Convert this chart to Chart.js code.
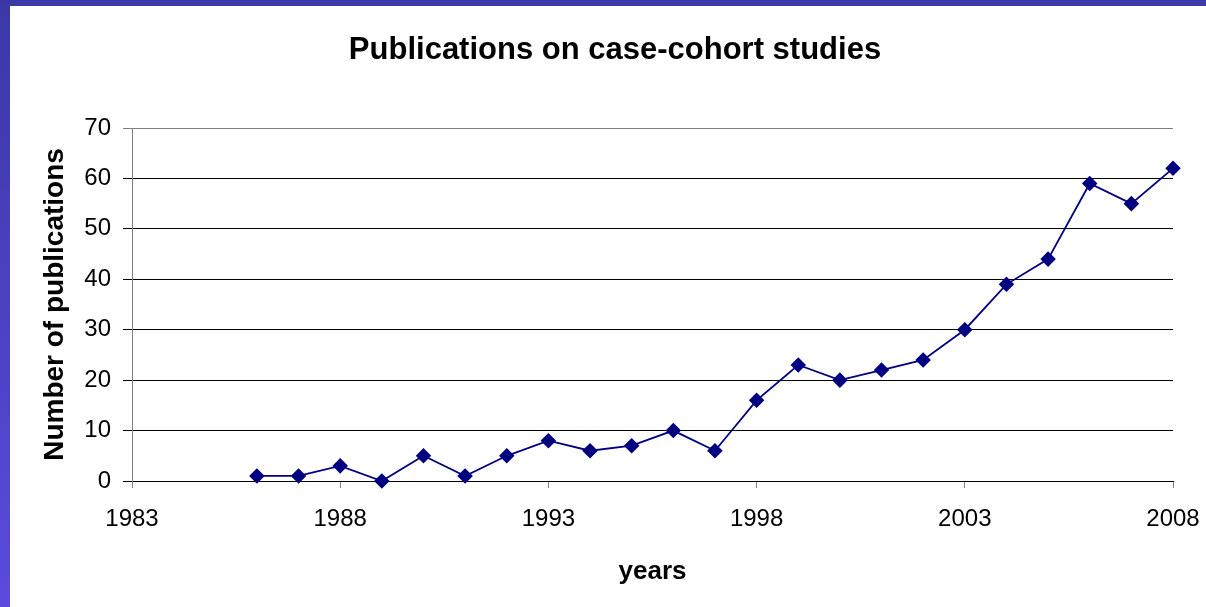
<!DOCTYPE html>
<html>
<head>
<meta charset="utf-8">
<script src="https://cdn.jsdelivr.net/npm/chart.js@4"></script>
<style>
  body { margin: 0; background: #fff; overflow: hidden; }
  .bar-top { position: absolute; left: 0; top: 0; width: 1206px; height: 6px; background: #3c3aa8; }
  .bar-left { position: absolute; left: 0; top: 0; width: 10px; height: 607px;
              background: linear-gradient(#3b38a6, #5a4bdc); }
  #chart { position: absolute; left: 0; top: 0; }
</style>
</head>
<body>
<div class="bar-top"></div>
<div class="bar-left"></div>
<canvas id="chart" width="1206" height="607"></canvas>
<script>
  // values
  const years = [1986, 1987, 1988, 1989, 1990, 1991, 1992, 1993, 1994, 1995, 1996, 1997,
                 1998, 1999, 2000, 2001, 2002, 2003, 2004, 2005, 2006, 2007, 2008];
  const counts = [1, 1, 3, 0, 5, 1, 5, 8, 6, 7, 10, 6,
                  16, 23, 20, 22, 24, 30, 39, 44, 59, 55, 62];
  const xTicks = [1983, 1988, 1993, 1998, 2003, 2008];
  const yTicks = [0, 10, 20, 30, 40, 50, 60, 70];

  const font = 'Liberation Sans, Arial, sans-serif';
  const points = years.map((y, i) => ({ x: y, y: counts[i] }));

  const config = {
    type: 'line',
    data: {
      datasets: [{
        label: 'Publications',
        data: points,
        borderColor: '#000080',
        backgroundColor: '#000080',
        borderWidth: 1.8,
        pointStyle: 'rectRot',
        pointRadius: 6.5,
        tension: 0,
        clip: false
      }]
    },
    options: {
      responsive: false,
      animation: false,
      layout: { padding: { left: 57, right: 33, top: 0, bottom: 0 } },
      plugins: {
        legend: { display: false },
        tooltip: { enabled: false },
        title: {
          display: true,
          text: 'Publications on case-cohort studies',
          color: '#000',
          font: { family: font, size: 31, weight: 'bold' },
          padding: { top: 32, bottom: 58.8 }
        }
      },
      scales: {
        x: {
          type: 'linear',
          min: 1983,
          max: 2008,
          afterBuildTicks: s => { s.ticks = xTicks.map(v => ({ value: v })); },
          afterFit: s => { s.height = 126; s.paddingLeft = 0; s.paddingRight = 0; },
          ticks: {
            color: '#000',
            font: { family: font, size: 24 },
            padding: 17,
            maxRotation: 0,
            callback: v => String(v)
          },
          grid: { drawOnChartArea: false, drawTicks: true, tickLength: 7, color: '#808080' },
          border: { color: '#000' },
          title: {
            display: true,
            text: 'years',
            color: '#000',
            font: { family: font, size: 26, weight: 'bold' },
            padding: { top: 0, bottom: 20 }
          }
        },
        y: {
          min: 0,
          max: 70,
          afterBuildTicks: s => { s.ticks = yTicks.map(v => ({ value: v })); },
          afterFit: s => { s.width = 75; },
          ticks: {
            color: '#000',
            font: { family: font, size: 24 },
            padding: 12
          },
          grid: {
            tickLength: 9,
            color: c => (c.tick && c.tick.value === 70 ? '#808080' : '#000')
          },
          border: { color: '#808080' },
          title: {
            display: true,
            text: 'Number of publications',
            color: '#000',
            font: { family: font, size: 28, weight: 'bold' },
            padding: { top: -19, bottom: 0 }
          }
        }
      }
    }
  };

  new Chart(document.getElementById('chart'), config);
</script>
</body>
</html>
